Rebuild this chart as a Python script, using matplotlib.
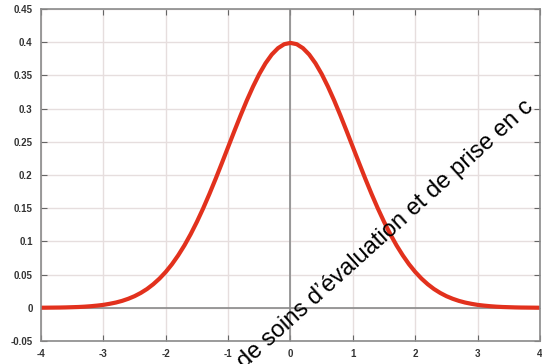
import matplotlib
matplotlib.use('Agg')
from matplotlib import pyplot as plt

# density values, right half (x = 0 .. 4 by 0.1); curve is symmetric
right_x = [round(i * 0.1, 1) for i in range(41)]
right_y = [0.3989, 0.3970, 0.3910, 0.3814, 0.3683, 0.3521, 0.3332, 0.3123, 0.2897, 0.2661,
           0.2420, 0.2179, 0.1942, 0.1714, 0.1497, 0.1295, 0.1109, 0.0940, 0.0790, 0.0656,
           0.0540, 0.0440, 0.0355, 0.0283, 0.0224, 0.0175, 0.0136, 0.0104, 0.0079, 0.0060,
           0.0044, 0.0033, 0.0024, 0.0017, 0.0012, 0.0009, 0.0006, 0.0004, 0.0003, 0.0002,
           0.0001]
xs = [-x for x in right_x[:0:-1]] + right_x
ys = right_y[:0:-1] + right_y

xticks = [-4, -3, -2, -1, 0, 1, 2, 3, 4]
yticks = [-0.05, 0, 0.05, 0.1, 0.15, 0.2, 0.25, 0.3, 0.35, 0.4, 0.45]
ylabels = ['-0.05', '0', '0.05', '0.1', '0.15', '0.2', '0.25', '0.3', '0.35', '0.4', '0.45']

plt.rcParams['font.family'] = ['Liberation Sans', 'DejaVu Sans']

fig = plt.figure(figsize=(5.42, 3.64), dpi=100)
ax = fig.add_axes([0.0756, 0.0632, 0.9207, 0.9121])

ax.set_xlim(-4, 4)
ax.set_ylim(-0.05, 0.45)
ax.set_xticks(xticks)
ax.set_xticklabels([str(t) for t in xticks])
ax.set_yticks(yticks)
ax.set_yticklabels(ylabels)
ax.grid(True, color='#e6dede', lw=1)
ax.axhline(0, color='#8a8a8a', lw=1.2)
ax.axvline(0, color='#8a8a8a', lw=1.2)
for s in ax.spines.values():
    s.set_color('#8a8a8a')
    s.set_linewidth(1.2)
ax.tick_params(direction='in', length=4, color='#666666', labelsize=7, labelcolor='#333333',
               top=True, right=True, pad=6)
for lab in ax.get_xticklabels() + ax.get_yticklabels():
    lab.set_fontweight('bold')

ax.plot(xs, ys, color='#e2311d', lw=3, solid_capstyle='round', solid_joinstyle='round')

fig.text(0.458, -0.025, 'de soins d\u2019évaluation et de prise en c', rotation=42,
         fontsize=17, color='black', ha='left', va='bottom', rotation_mode='anchor')

fig.savefig('out.png', dpi=100)
